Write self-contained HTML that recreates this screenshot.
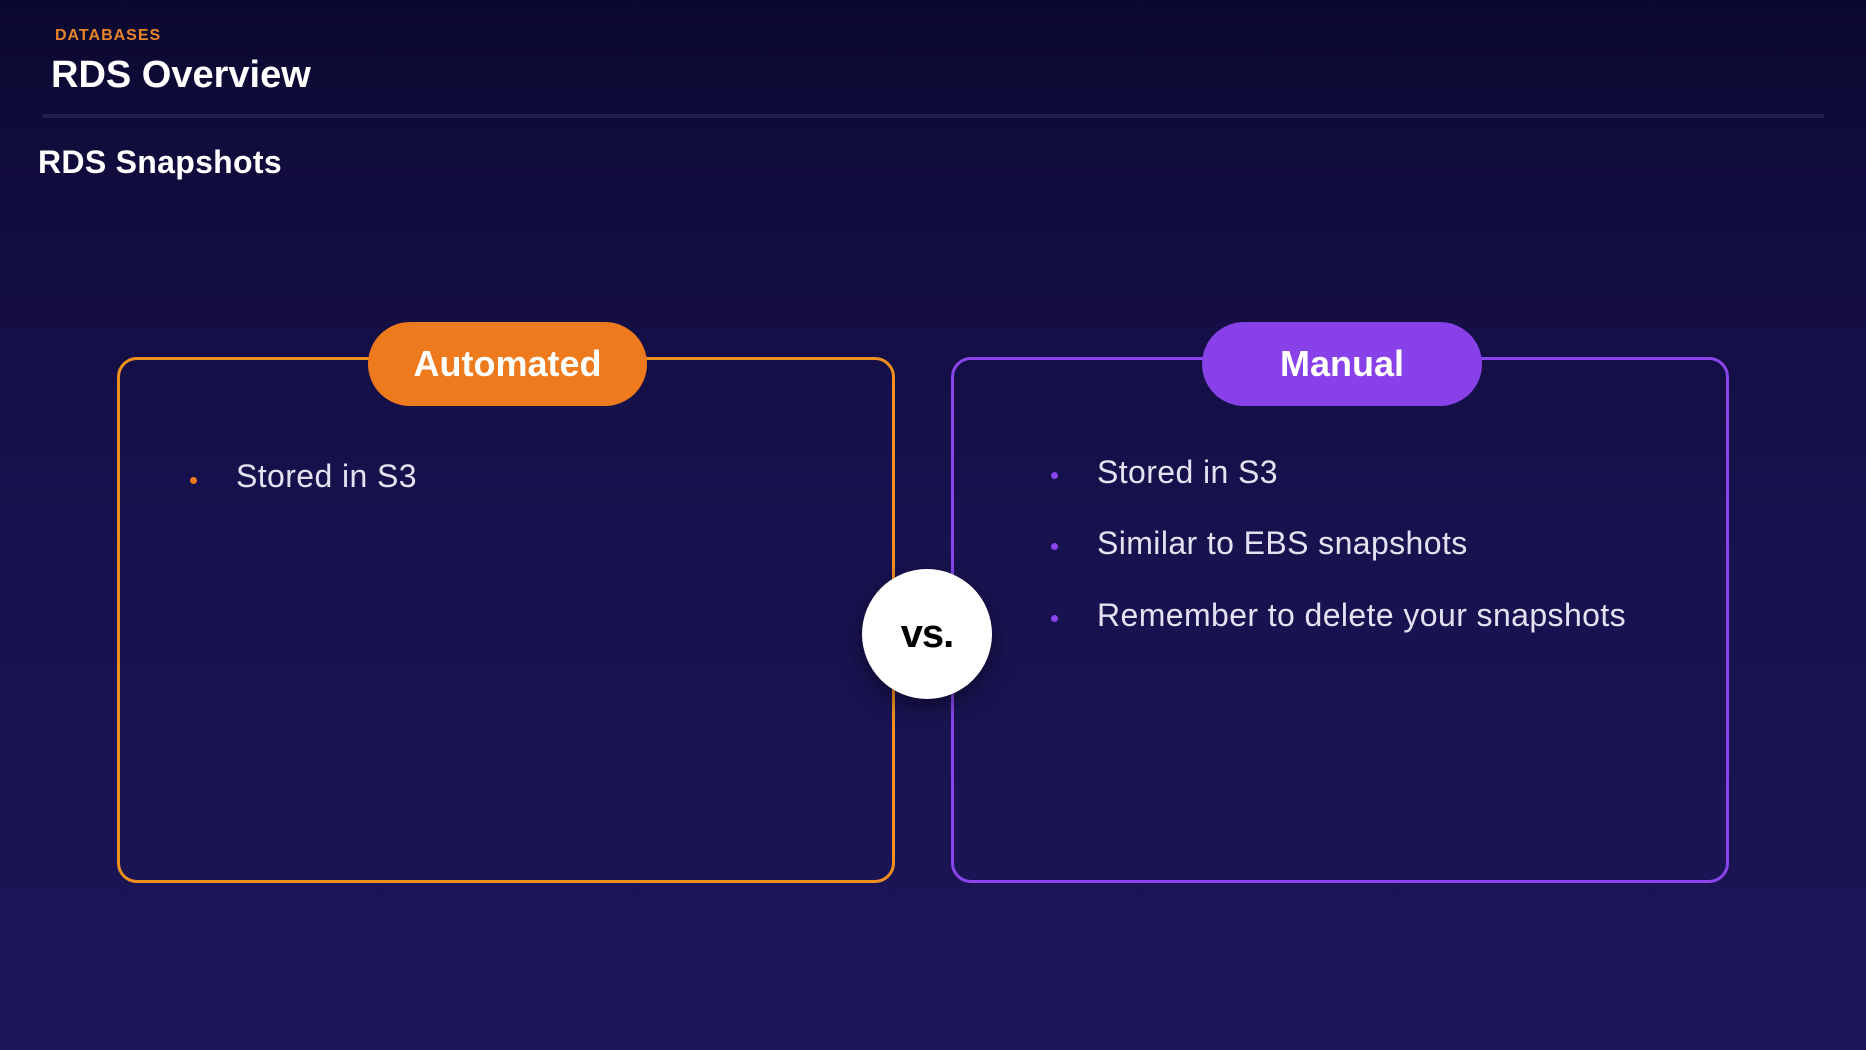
<!DOCTYPE html>
<html><head><meta charset="utf-8"><style>
html,body{margin:0;padding:0}
body{width:1866px;height:1050px;position:relative;overflow:hidden;font-family:"Liberation Sans",sans-serif;background:linear-gradient(180deg,#0b0830 0%,#120d40 20%,#181250 55%,#1c1558 100%)}
.a{position:absolute}
.box{position:absolute;top:357px;width:772px;height:520px;border:3px solid;border-radius:20px}
.pill{position:absolute;top:322px;height:84px;border-radius:42px;color:#fff;font-weight:bold;font-size:36px;display:flex;align-items:center;justify-content:center}
.li{position:absolute;color:#e4e2f0;font-size:32px;line-height:36px;letter-spacing:0.4px}
.dot{position:absolute;width:7px;height:7px;border-radius:50%}
</style></head><body>
<div class="a" style="left:55px;top:27px;color:#e8842a;font-weight:bold;font-size:16px;letter-spacing:1px">DATABASES</div>
<div class="a" style="left:51px;top:54px;color:#fff;font-weight:bold;font-size:38px;letter-spacing:0">RDS Overview</div>
<div class="a" style="left:42px;top:114px;width:1782px;height:4px;background:#231c4e"></div>
<div class="a" style="left:38px;top:144px;color:#fff;font-weight:bold;font-size:32px;letter-spacing:0.3px">RDS Snapshots</div>

<div class="box" style="left:117px;border-color:#f0901e"></div>
<div class="pill" style="left:368px;width:279px;background:#ee7a1e">Automated</div>
<div class="dot" style="left:190px;top:477px;background:#ee7a1e"></div>
<div class="li" style="left:236px;top:458px">Stored in S3</div>

<div class="box" style="left:951px;border-color:#8a44ec"></div>
<div class="pill" style="left:1202px;width:280px;background:#8840e8">Manual</div>
<div class="dot" style="left:1051px;top:472px;background:#8a44ec"></div>
<div class="li" style="left:1097px;top:454px">Stored in S3</div>
<div class="dot" style="left:1051px;top:543px;background:#8a44ec"></div>
<div class="li" style="left:1097px;top:525px">Similar to EBS snapshots</div>
<div class="dot" style="left:1051px;top:615px;background:#8a44ec"></div>
<div class="li" style="left:1097px;top:597px">Remember to delete your snapshots</div>

<div class="a" style="left:862px;top:569px;width:130px;height:130px;border-radius:50%;background:#fff;box-shadow:0 8px 24px rgba(0,0,0,0.45);display:flex;align-items:center;justify-content:center;font-weight:bold;font-size:40px;color:#000;letter-spacing:-1px">vs.</div>
</body></html>
